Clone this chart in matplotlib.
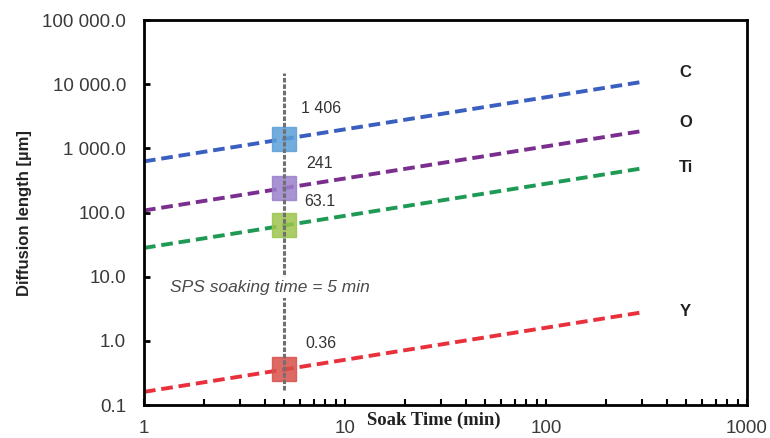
import numpy as np
import matplotlib
matplotlib.use('Agg')
import matplotlib.pyplot as plt
from matplotlib.ticker import LogLocator, NullFormatter

plt.rcParams['font.family'] = ['Liberation Sans', 'DejaVu Sans']

# data
soak_time = [1, 300]
elements = ['C', 'O', 'Ti', 'Y']
line_ends = {
    'C': [629, 10890],
    'O': [108, 1867],
    'Ti': [28.2, 489],
    'Y': [0.161, 2.79],
}
sps_time = 5
sps_values = [1406, 241, 63.1, 0.36]
sps_labels = ['1 406', '241', '63.1', '0.36']
sps_line = [0.17, 14800]

yticks = [0.1, 1, 10, 100, 1000, 10000, 100000]
ytick_labels = ['0.1', '1.0', '10.0', '100.0', '1 000.0', '10 000.0', '100 000.0']
xticks = [1, 10, 100, 1000]
xtick_labels = ['1', '10', '100', '1000']

line_colors = ['#3b5fc0', '#7a2e8e', '#1f9a55', '#e8313c']
box_colors = ['#5a9fd8', '#9a80cc', '#9cc44c', '#d8504a']
label_offsets = [(12, 22), (16, 18), (14, 17), (15, 19)]
name_offsets = [(27, 7), (27, 6), (27, 1), (27, 1)]

fig = plt.figure(figsize=(7.7, 4.38), dpi=100)
ax = fig.add_axes([0.187, 0.075, 0.783, 0.879])

ax.set_xscale('log')
ax.set_yscale('log')
ax.set_xlim(1, 1000)
ax.set_ylim(0.1, 100000)

# vertical marker of the SPS soaking time
ax.plot([sps_time, sps_time], sps_line, color='#707070', lw=2.2,
        dashes=(1.5, 0.6), zorder=4)

for i, el in enumerate(elements):
    ax.plot(soak_time, line_ends[el], color=line_colors[i], lw=2.8,
            dashes=(3.0, 1.5), zorder=2)
    ax.plot(sps_time, sps_values[i], marker='s', ms=17, color=box_colors[i],
            mec=box_colors[i], alpha=0.85, zorder=3)
    ax.annotate(sps_labels[i], (sps_time, sps_values[i]),
                xytext=label_offsets[i], textcoords='offset points',
                ha='left', va='center', fontsize=11.5, color='#333333')
    ax.annotate(el, (soak_time[-1], line_ends[el][-1]),
                xytext=name_offsets[i], textcoords='offset points',
                ha='left', va='center', fontsize=12, fontweight='bold',
                color='#222222')

ax.text(0.043, 0.306, 'SPS soaking time = 5 min', transform=ax.transAxes,
        fontsize=12.5, style='italic', color='#4a4a4a', va='center', ha='left',
        zorder=5, bbox=dict(facecolor='white', edgecolor='none', pad=2))

ax.set_yticks(yticks)
ax.set_yticklabels(ytick_labels)
ax.yaxis.set_minor_locator(plt.NullLocator())
ax.set_xticks(xticks)
ax.set_xticklabels(xtick_labels)
ax.xaxis.set_minor_locator(LogLocator(base=10, subs=np.arange(2, 10)))
ax.xaxis.set_minor_formatter(NullFormatter())

ax.tick_params(axis='y', which='major', direction='in', length=4, width=2,
               labelsize=13.5, labelcolor='#3a3a3a', pad=13)
ax.tick_params(axis='x', which='both', direction='in', length=4, width=1.5,
               labelsize=13.5, labelcolor='#3a3a3a', pad=11)
for s in ax.spines.values():
    s.set_linewidth(2)

ax.set_ylabel('Diffusion length [µm]', fontsize=12, fontweight='bold',
              color='#222222', labelpad=7)
fig.text(0.564, 0.04, 'Soak Time (min)', fontsize=13.5, fontweight='bold',
         family='Liberation Serif', ha='center', va='center', color='#222222')

fig.savefig('out.png', dpi=100)
